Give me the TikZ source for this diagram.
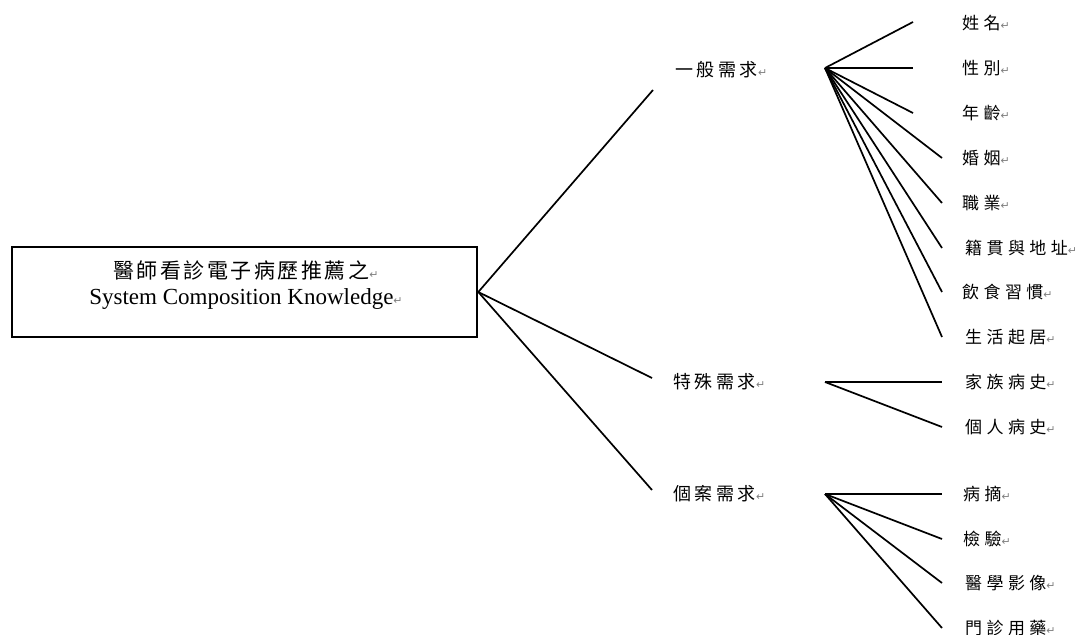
\documentclass[tikz,border=0pt]{standalone}
\usepackage{fontspec}
\setmainfont{Liberation Serif}
\newfontfamily\cjk[LetterSpace=20]{Noto Sans CJK TC}
\newfontfamily\cjkleaf[LetterSpace=26]{Noto Sans CJK TC}
\newfontfamily\cjktitle[LetterSpace=12]{Noto Sans CJK TC}
\newfontfamily\symb{DejaVu Sans}
\newcommand{\parmark}{{\symb\fontsize{11}{11}\selectfont\textcolor{gray}{↵}}}
\tikzset{
  link/.style={line width=1.7pt, black},
  rootbox/.style={draw, line width=2.6pt, minimum width=465pt, minimum height=90pt, inner sep=0pt},
  midlbl/.style={anchor=west, inner sep=0pt, font=\cjk\fontsize{18}{18}\selectfont},
  leaflbl/.style={anchor=west, inner sep=0pt, font=\cjkleaf\fontsize{17}{17}\selectfont},
}
\begin{document}
\begin{tikzpicture}[x=1pt,y=-1pt]
\useasboundingbox (0,0) rectangle (1088,635);
\clip (0,0) rectangle (1088,635);
% root
\node[rootbox] (root) at (244.5,292) {};
\node[align=center, inner sep=0pt, font=\fontsize{21}{26}\selectfont] (rootlbl) at (246,285.5) {{\cjktitle 醫師看診電子病歷推薦之}\parmark\\ {\fontsize{23}{26}\selectfont System Composition Knowledge}\parmark};
% mid labels
\node[midlbl] (g1) at (675,70) {一般需求\parmark};
\node[midlbl] (g2) at (673,382) {特殊需求\parmark};
\node[midlbl] (g3) at (673,494) {個案需求\parmark};
\coordinate (g1in) at (653,90);
\coordinate (g2in) at (652,378);
\coordinate (g3in) at (652,490);
\coordinate (g1out) at (825,68);
\coordinate (g2out) at (825,382);
\coordinate (g3out) at (825,494);
\draw[link] (root.east) -- (g1in);
\draw[link] (root.east) -- (g2in);
\draw[link] (root.east) -- (g3in);
% leaves group 1
\node[leaflbl] (a1) at (962,23) {姓名\parmark};
\node[leaflbl] (a2) at (962,68) {性別\parmark};
\node[leaflbl] (a3) at (962,113) {年齡\parmark};
\node[leaflbl] (a4) at (962,158) {婚姻\parmark};
\node[leaflbl] (a5) at (962,203) {職業\parmark};
\node[leaflbl] (a6) at (965,248) {籍貫與地址\parmark};
\node[leaflbl] (a7) at (962,292) {飲食習慣\parmark};
\node[leaflbl] (a8) at (965,337) {生活起居\parmark};
\coordinate (e1) at (913,22);
\coordinate (e2) at (913,68);
\coordinate (e3) at (913,113);
\coordinate (e4) at (942,158);
\coordinate (e5) at (942,203);
\coordinate (e6) at (942,248);
\coordinate (e7) at (942,292);
\coordinate (e8) at (942,337);
\foreach \i in {1,...,8} \draw[link] (g1out) -- (e\i);
% leaves group 2
\node[leaflbl] (b1) at (965,382) {家族病史\parmark};
\node[leaflbl] (b2) at (965,427) {個人病史\parmark};
\coordinate (f1) at (942,382);
\coordinate (f2) at (942,427);
\draw[link] (g2out) -- (f1);
\draw[link] (g2out) -- (f2);
% leaves group 3
\node[leaflbl] (c1) at (963,494) {病摘\parmark};
\node[leaflbl] (c2) at (963,539) {檢驗\parmark};
\node[leaflbl] (c3) at (965,583) {醫學影像\parmark};
\node[leaflbl] (c4) at (965,628) {門診用藥\parmark};
\coordinate (h1) at (942,494);
\coordinate (h2) at (942,539);
\coordinate (h3) at (942,583);
\coordinate (h4) at (942,628);
\foreach \i in {1,...,4} \draw[link] (g3out) -- (h\i);
\end{tikzpicture}
\end{document}
